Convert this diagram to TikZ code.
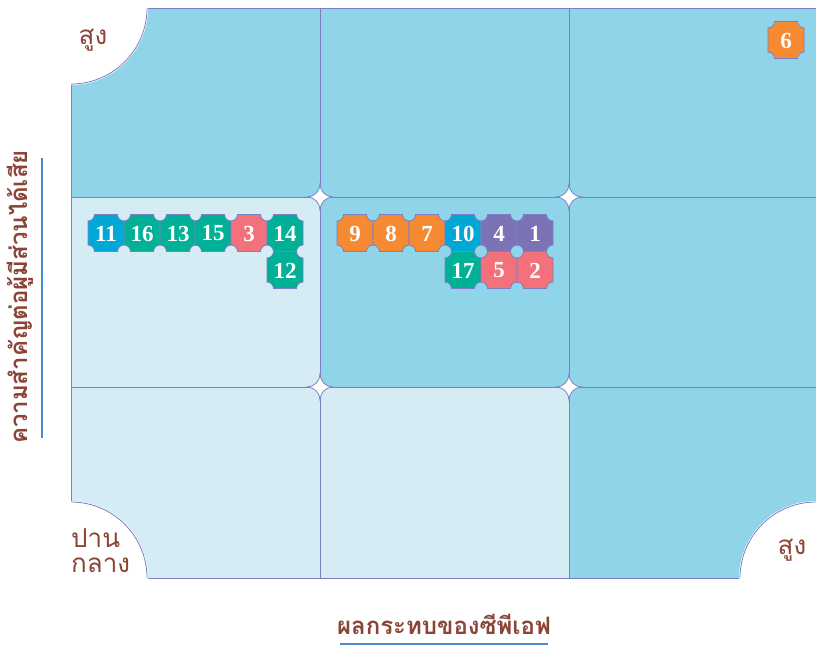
\documentclass[tikz,border=0pt]{standalone}
\usepackage{fontspec}
\newfontfamily\thaifont[Script=Thai]{Loma}
\newfontfamily\numfont{Liberation Serif}
\definecolor{celldark}{HTML}{8FD4E8}
\definecolor{celllight}{HTML}{D5ECF5}
\definecolor{gridline}{HTML}{7B7FC4}
\definecolor{tblue}{HTML}{00A9D5}
\definecolor{tgreen}{HTML}{00B097}
\definecolor{tsalmon}{HTML}{F2717A}
\definecolor{torange}{HTML}{F58A32}
\definecolor{tpurple}{HTML}{7C73B6}
\definecolor{labelbrown}{HTML}{8B4536}
\definecolor{axisblue}{HTML}{4A8AD0}
\tikzset{
    tileline/.style={draw=gridline, line width=0.8pt},
    tilenum/.style={text=white, font=\numfont\fontsize{23}{23}\selectfont\bfseries, inner sep=0pt},
    cornerlabel/.style={text=labelbrown, font=\thaifont\fontsize{26}{25}\selectfont, inner sep=0pt},
    axislabel/.style={text=labelbrown, font=\thaifont\bfseries\fontsize{24}{28}\selectfont, inner sep=0pt},
    axisline/.style={draw=axisblue, line width=2pt}
}
% one numbered tile with notched corners
\newcommand\tile[4]{%
    \begin{scope}[shift={(#2,#3)}]
        \filldraw[tileline, fill=#4] (-11.5,-18.5) -- (11.5,-18.5)
            arc[start angle=180, end angle=90, radius=6.5] -- (18,12)
            arc[start angle=270, end angle=180, radius=6.5] -- (-11.5,18.5)
            arc[start angle=0, end angle=-90, radius=6.5] -- (-18,-12)
            arc[start angle=90, end angle=0, radius=6.5] -- cycle;
        \node[tilenum] (t#1) at (0,0.5) {#1};
    \end{scope}}
% white junction star
\newcommand\junction[2]{%
    \filldraw[tileline, fill=white] (#1+13,#2)
        arc[start angle=-90, end angle=-180, radius=13]
        arc[start angle=0, end angle=-90, radius=13]
        arc[start angle=90, end angle=0, radius=13]
        arc[start angle=180, end angle=90, radius=13] -- cycle;}
\begin{document}
\begin{tikzpicture}[x=1pt, y=-1pt]
    \useasboundingbox (0,0) rectangle (816,645);

    % cells
    \fill[celldark] (71,8) rectangle (817,197);
    \fill[celllight] (71,197) rectangle (320,387);
    \fill[celldark] (320,197) rectangle (817,387);
    \fill[celllight] (71,387) rectangle (569,578);
    \fill[celldark] (569,387) rectangle (817,578);
    \draw[tileline] (71,8) rectangle (817,578);
    \foreach \x in {320,569} \draw[tileline] (\x,8) -- (\x,578);
    \foreach \y in {197,387} \draw[tileline] (71,\y) -- (817,\y);
    \foreach \x in {320,569} \foreach \y in {197,387} {\junction{\x}{\y}}

    % corner cut-outs
    \filldraw[white, line width=2pt] (71,8) -- (147,8) arc[start angle=0, end angle=90, radius=76] -- cycle;
    \draw[tileline] (147,8) arc[start angle=0, end angle=90, radius=76];
    \filldraw[white, line width=2pt] (71,578) -- (71,502) arc[start angle=-90, end angle=0, radius=76] -- cycle;
    \draw[tileline] (71,502) arc[start angle=-90, end angle=0, radius=76];
    \filldraw[white, line width=2pt] (817,578) -- (740,578) arc[start angle=180, end angle=270, radius=76] -- cycle;
    \draw[tileline] (740,578) arc[start angle=180, end angle=270, radius=76];

    % tiles
    \foreach \n/\x/\y/\c in {11/106/233/tblue, 16/142/233/tgreen, 13/178/233/tgreen,
        15/213/233/tgreen, 3/249/233/tsalmon, 14/285/233/tgreen, 12/285/270/tgreen,
        9/355/233/torange, 8/391/233/torange, 7/427/233/torange, 10/463/233/tblue,
        4/499/233/tpurple, 1/535/233/tpurple, 17/463/270/tgreen, 5/499/270/tsalmon,
        2/535/270/tsalmon, 6/786/40/torange}
        {\tile{\n}{\x}{\y}{\c}}

    % corner labels
    \node[cornerlabel] (hightop) at (93,40) {สูง};
    \node[cornerlabel, align=left, anchor=west] (mid) at (71,551) {ปาน\\กลาง};
    \node[cornerlabel] (highright) at (792,550) {สูง};

    % axes
    \node[axislabel, rotate=90] (ylab) at (20,297) {ความสำคัญต่อผู้มีส่วนได้เสีย};
    \draw[axisline] (42,158) -- (42,438);
    \node[axislabel] (xlab) at (444,624) {ผลกระทบของซีพีเอฟ};
    \draw[axisline] (340,644) -- (548,644);
\end{tikzpicture}
\end{document}
